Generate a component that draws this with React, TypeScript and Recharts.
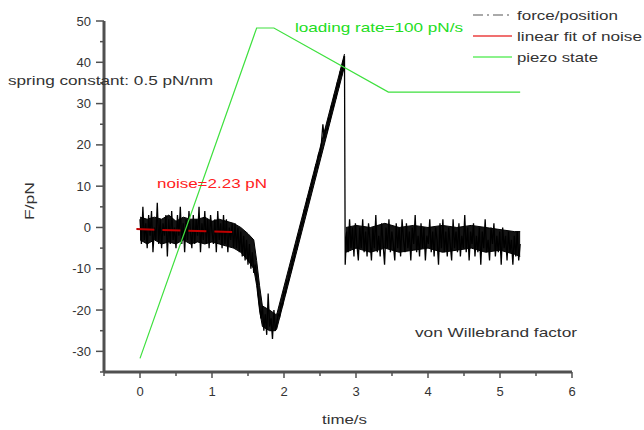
import React from "react";
import { ComposedChart, Line, Area, XAxis, YAxis } from "recharts";

// ---- data ----
// force/position trace, piecewise segments: [startTime, endTime, values]
const noiseBaseline = [2,-4,5,-3,1,-5,3,-2,4,-6,0,-3,6,-4,2,-5,1,-2,3,-7,2,-4,4,-3,0,-5,3,-2,5,-4,1,-6,2,-3,4,-1,-5,3,-4,2,-2,5,-6,1,-3,4,-4,2,-5,3,-1,-4,2,-6,4,-3,1,-5,3,-4,2,-6,0,-3,1,-5];
const driftDown = [1,-5,0,-6,-1,-7,-2,-8,-3,-9,-4,-10,-6,-11,-9];
const steepDrop = [-12,-16,-19,-22];
const bottomNoise = [-19,-25,-21,-26,-16,-24,-22,-27,-20,-25];
const loadingRamp = [-23,-21,-21.5,-18.5,-18.8,-15.5,-16,-13,-13.2,-10,-10.5,-7.5,-7.8,-4.5,-5,-1.8,-2,1,0.8,4,3.5,6.8,6.5,9.5,9.3,12.2,12,15,14.5,17.8,17.3,20.5,25,21.5,24,23.5,26.5,26,29.5,29,32,31.5,34.8,34.2,37.5,37,40,41.5];
const afterRupture = [-9,-1,-6,2,-5,0,-7,1,-4,-8,0,-5,2,-6,-1,-7,1,-3,-8,0,-5,3,-6,-2,-7,1,-4,-9,0,-5,2,-6,-1,-4,-8,1,-5,0,-7,2,-3,-6,1,-5,-1,-8,0,-4,3,-6,-2,-7,1,-5,0,-8,-2,-4,2,-6,-1,-7,0,-3,-9,1,-5,2,-6,-1,-7,0,-4,-8,2,-5,-1,-6,1,-7,-2,-5,3,-6,0,-8,-1,-4,1,-7,-2,-6,0,-9,-1,-5,2,-6,-3,-8,0,-4,1,-7,-2,-6,-1,-9,0,-5,-2,-8,-1,-6,-3,-9,-2,-7,-1,-8,-4];
const forceSegments: [number, number, number[]][] = [
  [0.0, 1.3, noiseBaseline],
  [1.32, 1.6, driftDown],
  [1.62, 1.68, steepDrop],
  [1.7, 1.88, bottomNoise],
  [1.9, 2.84, loadingRamp],
  [2.85, 5.28, afterRupture],
];

// dense core of the noisy trace (time, low, high)
const coreTimesA = [0, 0.1, 0.2, 0.3, 0.4, 0.5, 0.6, 0.7, 0.8, 0.9, 1.0, 1.1, 1.2, 1.3, 1.4, 1.5, 1.58, 1.62, 1.66, 1.7, 1.8, 1.88, 1.9, 2.84];
const coreLowA = [-3, -4, -3, -4, -3.5, -4, -3, -4, -3.5, -4, -3.5, -4, -4.5, -5, -6, -8, -10, -14, -20, -24, -25, -25, -24.5, 39];
const coreHighA = [2.5, 2, 2.5, 2, 3, 1.5, 2.5, 2, 2, 2.5, 1.5, 2, 1.5, 1, 0, -1.5, -3, -8, -14, -19, -20, -21, -21, 42];
const coreTimesB = [2.86, 3.0, 3.2, 3.4, 3.6, 3.8, 4.0, 4.2, 4.4, 4.6, 4.8, 5.0, 5.2, 5.28];
const coreLowB = [-6, -5, -6, -5, -6, -5.5, -5, -6, -5.5, -5, -6, -5.5, -6.5, -7];
const coreHighB = [0, 0.5, 0, 1, 0, 0.5, 0, 0.5, 0, 0.5, 0, -0.5, -1, -1];

const fitTimes = [-0.05, 1.28];
const fitValues = [-0.4, -1.1];

const piezoTimes = [0, 1.62, 1.86, 3.45, 5.28];
const piezoValues = [-31.7, 48.3, 48.3, 32.8, 32.8];

const xTicks = [-0.5, 0, 0.5, 1, 1.5, 2, 2.5, 3, 3.5, 4, 4.5, 5, 5.5, 6];
const yTicks = [-35, -30, -25, -20, -15, -10, -5, 0, 5, 10, 15, 20, 25, 30, 35, 40, 45, 50];

const legendItems = ["force/position", "linear fit of noise", "piezo state"];

// ---- build tables ----
const forceData: { x: number; y: number }[] = [];
forceSegments.forEach(([t0, t1, vals]) => {
  const n = vals.length;
  vals.forEach((v, i) => {
    forceData.push({ x: n > 1 ? t0 + ((t1 - t0) * i) / (n - 1) : t0, y: v });
  });
});
const coreDataA = coreTimesA.map((x, i) => ({ x, r: [coreLowA[i], coreHighA[i]] }));
const coreDataB = coreTimesB.map((x, i) => ({ x, r: [coreLowB[i], coreHighB[i]] }));
const fitData = fitTimes.map((x, i) => ({ x, y: fitValues[i] }));
const piezoData = piezoTimes.map((x, i) => ({ x, y: piezoValues[i] }));

const FONT = "'Liberation Sans', Arial, sans-serif";
const AXIS_X = 104;
const AXIS_Y = 372;
const AXIS_COLOR = "#505050";

const YTick = (props: any) => {
  const { y, payload } = props;
  const v = payload.value;
  const major = v % 10 === 0;
  return (
    <g>
      <line x1={AXIS_X - (major ? 8 : 4)} x2={AXIS_X} y1={y} y2={y} stroke={AXIS_COLOR} strokeWidth={1.5} />
      {major && (
        <text x={91} y={y} textAnchor="end" dominantBaseline="central" fontFamily={FONT} fontSize={13} fill="#333">
          {v}
        </text>
      )}
    </g>
  );
};

const XTick = (props: any) => {
  const { x, payload } = props;
  const v = payload.value;
  const major = Number.isInteger(v);
  return (
    <g>
      <line x1={x} x2={x} y1={AXIS_Y} y2={AXIS_Y + (major ? 6 : 4)} stroke={AXIS_COLOR} strokeWidth={1.5} />
      {major && (
        <text x={x} y={391} textAnchor="middle" dominantBaseline="central" fontFamily={FONT} fontSize={13} fill="#333">
          {v}
        </text>
      )}
    </g>
  );
};

export default function App() {
  return (
    <div style={{ position: "absolute", left: 0, top: 0, width: 644, height: 430, background: "#fff" }}>
      <ComposedChart width={644} height={430} margin={{ top: 21, right: 72, bottom: 0, left: 0 }}>
        <XAxis
          type="number"
          dataKey="x"
          domain={[-0.5, 6]}
          ticks={xTicks}
          interval={0}
          allowDataOverflow
          height={58}
          tickLine={false}
          axisLine={{ stroke: AXIS_COLOR, strokeWidth: 3 }}
          tick={<XTick />}
        />
        <YAxis
          type="number"
          domain={[-35, 50]}
          ticks={yTicks}
          interval={0}
          allowDataOverflow
          width={104}
          tickLine={false}
          axisLine={{ stroke: AXIS_COLOR, strokeWidth: 3 }}
          tick={<YTick />}
        />
        <Area data={coreDataA} dataKey="r" type="linear" fill="#000" fillOpacity={0.92} stroke="#000" strokeWidth={1} dot={false} activeDot={false} isAnimationActive={false} />
        <Area data={coreDataB} dataKey="r" type="linear" fill="#000" fillOpacity={0.92} stroke="#000" strokeWidth={1} dot={false} activeDot={false} isAnimationActive={false} />
        <Line data={forceData} dataKey="y" type="linear" stroke="#000" strokeWidth={1.3} dot={false} isAnimationActive={false} />
        <Line data={fitData} dataKey="y" type="linear" stroke="#c00000" strokeWidth={2} strokeDasharray="18 8" dot={false} isAnimationActive={false} />
        <Line data={piezoData} dataKey="y" type="linear" stroke="#3ee03e" strokeWidth={1.2} dot={false} isAnimationActive={false} />
      </ComposedChart>
      <svg width={644} height={430} style={{ position: "absolute", left: 0, top: 0, pointerEvents: "none" }}>
        <g fontFamily={FONT} fontSize={13} dominantBaseline="central">
          <text x={8} y={80} fill="#333" textLength={205} lengthAdjust="spacingAndGlyphs">spring constant: 0.5 pN/nm</text>
          <text x={295} y={27} fill="#22dd22" textLength={168} lengthAdjust="spacingAndGlyphs">loading rate=100 pN/s</text>
          <text x={157} y={183} fill="#ff2020" textLength={110} lengthAdjust="spacingAndGlyphs">noise=2.23 pN</text>
          <text x={415} y={332} fill="#333" textLength={162} lengthAdjust="spacingAndGlyphs">von Willebrand factor</text>
          <text x={322} y={419} fill="#333" textLength={45} lengthAdjust="spacingAndGlyphs">time/s</text>
          <text x={0} y={0} fill="#333" textAnchor="middle" transform="translate(29,201) rotate(-90)" textLength={38} lengthAdjust="spacingAndGlyphs">F/pN</text>
          <line x1={473} x2={512} y1={15} y2={15} stroke="#aaa" strokeWidth={2} strokeDasharray="10 4 2 4" />
          <line x1={473} x2={512} y1={36} y2={36} stroke="#f07070" strokeWidth={2} />
          <line x1={473} x2={512} y1={57} y2={57} stroke="#66ee66" strokeWidth={1.5} />
          <text x={517} y={15} fill="#333" textLength={101} lengthAdjust="spacingAndGlyphs">{legendItems[0]}</text>
          <text x={517} y={36} fill="#333" textLength={125} lengthAdjust="spacingAndGlyphs">{legendItems[1]}</text>
          <text x={517} y={57} fill="#333" textLength={81} lengthAdjust="spacingAndGlyphs">{legendItems[2]}</text>
        </g>
      </svg>
    </div>
  );
}
